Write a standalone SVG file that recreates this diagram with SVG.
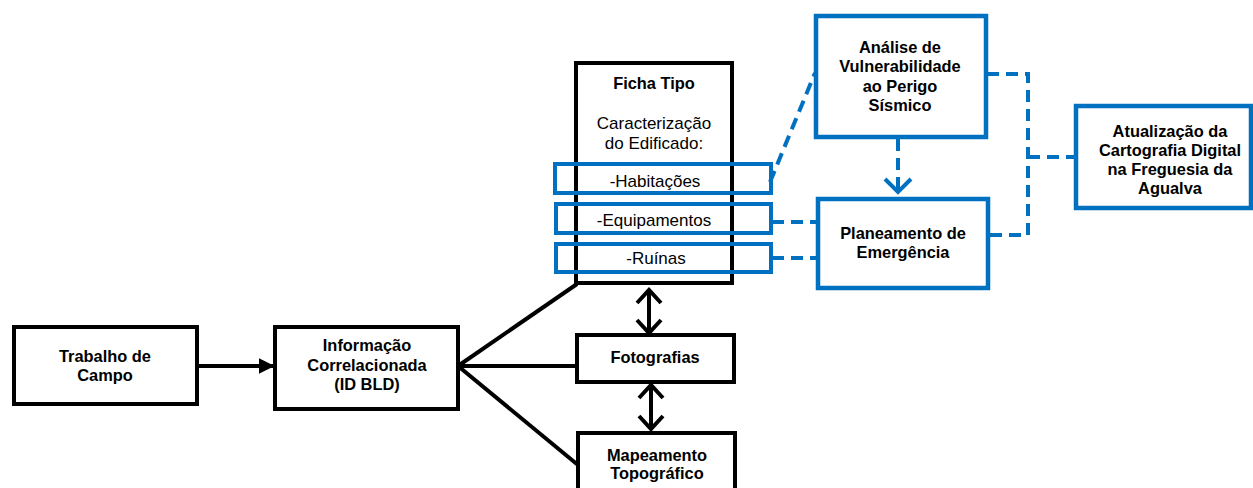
<svg xmlns="http://www.w3.org/2000/svg" width="1253" height="488" viewBox="0 0 1253 488">
<style>
.bk{fill:#fff;stroke:#000;stroke-width:4}
.bl{fill:#fff;stroke:#0070C0;stroke-width:4.5}
.blo{fill:none;stroke:#0070C0;stroke-width:4}
.t{font-family:"Liberation Sans",Arial,sans-serif;font-size:17px;fill:#000;text-anchor:middle}
.b{font-weight:bold;font-size:16.4px}
.ln{fill:none;stroke:#000;stroke-width:4}
.dl{fill:none;stroke:#0070C0;stroke-width:4;stroke-dasharray:12 7}
</style>
<defs>
<marker id="ah" viewBox="0 0 10 10" refX="9" refY="5" markerWidth="4" markerHeight="4" orient="auto" markerUnits="strokeWidth">
<path d="M0,0 L10,5 L0,10 z" fill="#000"/>
</marker>
</defs>
<g id="connectors">
<line class="ln" x1="197" y1="366" x2="273" y2="366" marker-end="url(#ah)"/>
<line class="ln" x1="458" y1="366" x2="577" y2="284"/>
<line class="ln" x1="458" y1="366" x2="577" y2="366"/>
<line class="ln" x1="458" y1="366" x2="578" y2="465"/>
<line class="ln" x1="649" y1="289" x2="649" y2="333"/>
<polyline class="ln" points="637,303 649,290 661,303"/>
<polyline class="ln" points="637,320 649,333 661,320"/>
<line class="ln" x1="651" y1="385" x2="651" y2="429"/>
<polyline class="ln" points="639,398 651,385 663,398"/>
<polyline class="ln" points="639,416 651,429 663,416"/>
<line class="dl" x1="770" y1="182" x2="815" y2="73" stroke-dasharray="16 9"/>
<line class="dl" x1="772" y1="222" x2="817" y2="222"/>
<line class="dl" x1="772" y1="258" x2="817" y2="258"/>
<line class="dl" x1="898" y1="139" x2="898" y2="191" stroke-dasharray="14 8"/>
<polyline class="blo" points="885,179 898,192 911,179"/>
<polyline class="dl" points="987,74 1028,74 1028,235 988,235"/>
<line class="dl" x1="1028" y1="157" x2="1075" y2="157"/>
</g>
<g id="trabalho">
<rect class="bk" x="14" y="327" width="183" height="77"/>
<text class="t b" x="105" y="362">Trabalho de</text>
<text class="t b" x="105" y="381">Campo</text>
</g>
<g id="informacao">
<rect class="bk" x="275" y="327" width="183" height="82"/>
<text class="t b" x="367" y="351">Informação</text>
<text class="t b" x="367" y="371">Correlacionada</text>
<text class="t b" x="367" y="390">(ID BLD)</text>
</g>
<g id="ficha">
<rect class="bk" x="576" y="63" width="156" height="220"/>
<text class="t b" x="654" y="89">Ficha Tipo</text>
<text class="t" x="654" y="129">Caracterização</text>
<text class="t" x="654" y="149">do Edificado:</text>
</g>
<g id="habitacoes">
<rect class="blo" x="555" y="164" width="216" height="29"/>
<text class="t" x="655" y="187">-Habitações</text>
</g>
<g id="equipamentos">
<rect class="blo" x="556" y="204" width="215" height="29"/>
<text class="t" x="654" y="226">-Equipamentos</text>
</g>
<g id="ruinas">
<rect class="blo" x="556" y="244" width="215" height="28"/>
<text class="t" x="656" y="264">-Ruínas</text>
</g>
<g id="fotografias">
<rect class="bk" x="577" y="335" width="157" height="47"/>
<text class="t b" x="655" y="363">Fotografias</text>
</g>
<g id="mapeamento">
<rect class="bk" x="578" y="433" width="157" height="60"/>
<text class="t b" x="657" y="461">Mapeamento</text>
<text class="t b" x="657" y="479">Topográfico</text>
</g>
<g id="analise">
<rect class="bl" x="816" y="16" width="170" height="121"/>
<text class="t b" x="900" y="53">Análise de</text>
<text class="t b" x="900" y="72">Vulnerabilidade</text>
<text class="t b" x="900" y="92">ao Perigo</text>
<text class="t b" x="900" y="111">Sísmico</text>
</g>
<g id="planeamento">
<rect class="bl" x="818" y="199" width="170" height="89"/>
<text class="t b" x="903" y="239">Planeamento de</text>
<text class="t b" x="903" y="258">Emergência</text>
</g>
<g id="atualizacao">
<rect class="bl" x="1076" y="106" width="175" height="102"/>
<text class="t b" x="1170" y="137">Atualização da</text>
<text class="t b" x="1170" y="156">Cartografia Digital</text>
<text class="t b" x="1170" y="175">na Freguesia da</text>
<text class="t b" x="1170" y="194">Agualva</text>
</g>
</svg>
